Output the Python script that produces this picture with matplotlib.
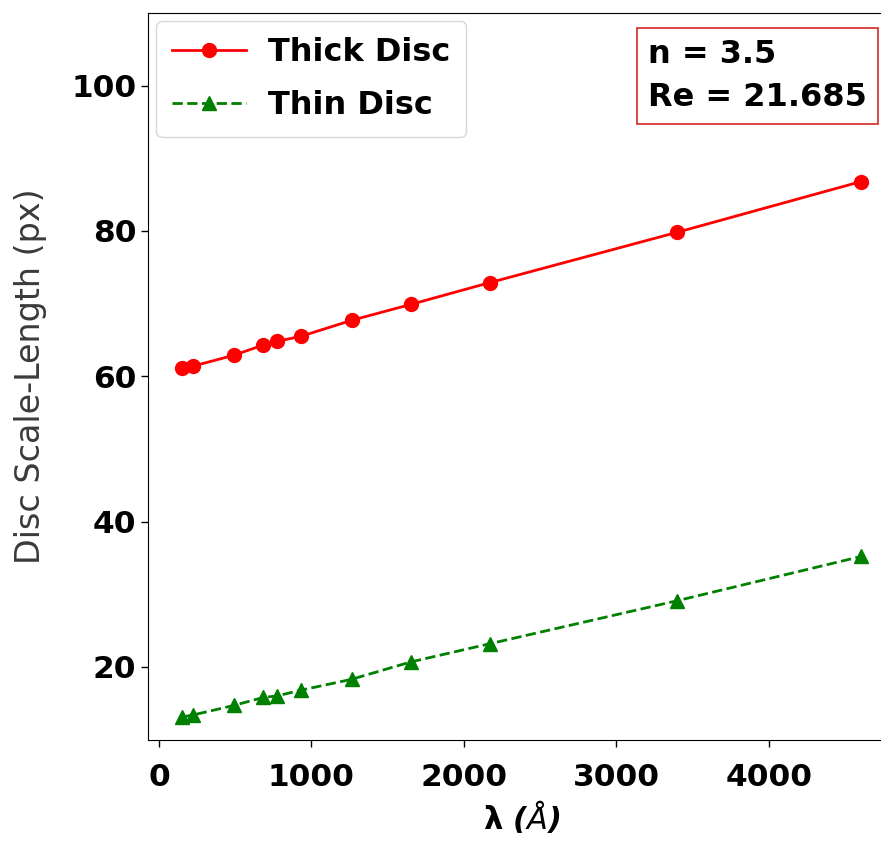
import matplotlib
matplotlib.use("Agg")
import matplotlib.pyplot as plt

# Wavelengths (Angstrom) and fitted disc scale-lengths (px)
wavelength = [153, 225, 492, 684, 772, 932, 1264, 1654, 2172, 3397, 4606]
thick_disc = [61.1, 61.4, 62.9, 64.3, 64.8, 65.5, 67.7, 69.9, 72.9, 79.8, 86.8]
thin_disc = [13.1, 13.4, 14.7, 15.8, 16.0, 16.8, 18.3, 20.7, 23.2, 29.1, 35.2]

sersic_n = 3.5
eff_radius = 21.685

fig = plt.figure(figsize=(8.81, 8.42), dpi=100)
ax = fig.add_axes([0.1683, 0.1216, 0.8476, 0.863])

ax.plot(wavelength, thick_disc, "r-o", lw=2, ms=10, label="Thick Disc")
ax.plot(wavelength, thin_disc, "g--^", lw=2, ms=9.5, label="Thin Disc")

ax.set_ylim(10, 110)
ax.set_yticks([20, 40, 60, 80, 100])
ax.set_xticks([0, 1000, 2000, 3000, 4000])

for lbl in ax.get_xticklabels() + ax.get_yticklabels():
    lbl.set_fontweight("bold")
ax.tick_params(labelsize=22.5, length=5, width=1)
ax.tick_params(axis="x", pad=12)

ax.set_xlabel(r"$\boldsymbol{\lambda}$ ($\AA$)", fontsize=22, fontweight="bold",
              fontstyle="italic", labelpad=4)
ax.set_ylabel("Disc Scale-Length (px)", fontsize=24, color="#3a3a3a")
ax.yaxis.set_label_coords(-0.136, 0.5)

ax.legend(loc="upper left", prop={"size": 23, "weight": "bold"},
          handlelength=2.3, borderpad=0.5, labelspacing=0.7,
          borderaxespad=0.25, handletextpad=0.7)

ax.text(0.669, 0.9642, f"n = {sersic_n}\nRe = {eff_radius}",
        transform=ax.transAxes, ha="left", va="top", fontsize=23,
        fontweight="bold", linespacing=1.5,
        bbox=dict(boxstyle="square,pad=0.35", fc="white", ec="#d62728", lw=1.2))

fig.savefig("out.png", dpi=100)
